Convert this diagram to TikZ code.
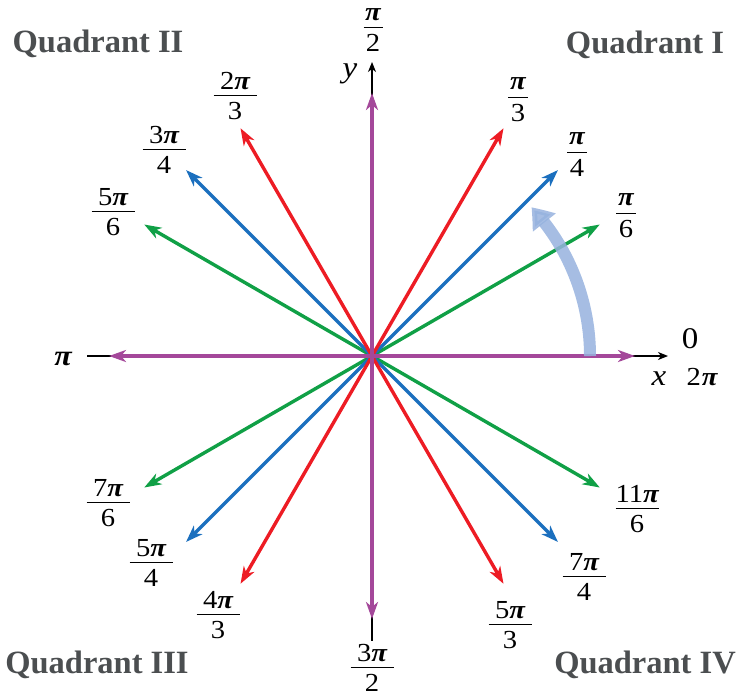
\documentclass[tikz,border=0pt]{standalone}
\usepackage{fontspec}
\setmainfont{Liberation Serif}
\newfontfamily\labfont[FakeStretch=1.1]{Liberation Serif}
\usetikzlibrary{arrows.meta,bending,calc}
\definecolor{cred}{RGB}{237,28,36}
\definecolor{cblue}{RGB}{27,111,190}
\definecolor{cgreen}{RGB}{16,160,70}
\definecolor{cmag}{RGB}{164,72,154}
\definecolor{carc}{RGB}{150,178,222}
\definecolor{cquad}{RGB}{75,78,80}
\newcommand\pii{{\bfseries\itshape π}}
% \fr[gap above rule]{rule width}{num}{den}: baseline = bottom of rule
\newcommand\fr[4][4.5pt]{\hbox{\vbox{\hbox to #2{\hfil#3\hfil}\kern#1\hrule height 1.3pt width #2}\kern-#2\vtop{\kern 6.5pt\hbox to #2{\hfil#4\hfil}}}}
\begin{document}
\begin{tikzpicture}[x=1pt,y=-1pt,
  ray/.style={line width=3.4pt,-{Stealth[length=17pt,width=12pt,inset=5pt]}},
  axisline/.style={line width=1.2pt,-{Stealth[length=10pt,width=8pt,inset=3pt]}},
  lab/.style={font=\labfont\fontsize{26}{28}\selectfont,inner sep=0pt,anchor=base},
  quad/.style={font=\fontsize{32.5}{36}\selectfont\bfseries,text=cquad,inner sep=0pt,anchor=base}]
\useasboundingbox (0,0) rectangle (738,696);
\coordinate (O) at (372,356);
\coordinate (xL) at (87,356);
\coordinate (xR) at (668,356);
\coordinate (yB) at (372,641);
\coordinate (yT) at (372,62);
\draw[axisline] (xL) -- (xR);
\draw[line width=1.2pt] (O) -- (yB);
\draw[axisline] (O) -- (yT);
\foreach \a in {0,30,45,60,90,120,135,150,180,210,225,240,270,300,315,330}
  \coordinate (t\a) at ($(O)+(\a:263pt)$);
\foreach \a in {30,150,210,330} \draw[ray,cgreen] (O) -- (t\a);
\foreach \a in {45,135,225,315} \draw[ray,cblue] (O) -- (t\a);
\foreach \a in {60,120,240,300} \draw[ray,cred] (O) -- (t\a);
\foreach \a in {0,90,180,270} \draw[ray,cmag] (O) -- (t\a);
\draw[line width=12pt,carc,opacity=0.85,-{Triangle[length=20pt,width=28pt,bend]}]
  ($(O)+(0:218pt)$) arc[start angle=0,end angle=43,radius=218pt];
% angle labels (positions = bottom of fraction rule)
\node[lab] (l90) at (373,28) {\fr[6pt]{19pt}{\pii}{2}};
\node[lab] (l60) at (518,98) {\fr[7pt]{20pt}{\pii}{3}};
\node[lab] (l45) at (577,153) {\fr[7pt]{20pt}{\pii}{4}};
\node[lab] (l30) at (626,214) {\fr[7pt]{20pt}{\pii}{6}};
\node[lab] (l120) at (235,96) {\fr{43pt}{2\pii}{3}};
\node[lab] (l135) at (164,150) {\fr{43pt}{3\pii}{4}};
\node[lab] (l150) at (113,212) {\fr{43pt}{5\pii}{6}};
\node[lab] (l210) at (108,503) {\fr{43pt}{7\pii}{6}};
\node[lab] (l225) at (151,563) {\fr{43pt}{5\pii}{4}};
\node[lab] (l240) at (218,615) {\fr{43pt}{4\pii}{3}};
\node[lab] (l270) at (372,668) {\fr{43pt}{3\pii}{2}};
\node[lab] (l300) at (510,625) {\fr{43pt}{5\pii}{3}};
\node[lab] (l315) at (584,577) {\fr{43pt}{7\pii}{4}};
\node[lab] (l330) at (637,509) {\fr{43pt}{11\pii}{6}};
\node[lab,font=\labfont\fontsize{30}{30}\selectfont] (l0) at (690,348) {0};
\node[lab] (l2pi) at (702,385) {2\kern1pt\pii};
\node[lab,font=\labfont\fontsize{29}{30}\selectfont] (lpi) at (63,365) {\pii};
\node[lab,font=\labfont\fontsize{30}{30}\selectfont] (lx) at (659,385) {\itshape x};
\node[lab,font=\labfont\fontsize{30}{30}\selectfont] (ly) at (350,77) {\itshape y};
% quadrant labels
\node[quad] (q1) at (645,53) {Quadrant I};
\node[quad] (q2) at (98,52) {Quadrant II};
\node[quad] (q3) at (97,673) {Quadrant III};
\node[quad] (q4) at (645,673) {Quadrant IV};
\end{tikzpicture}
\end{document}
